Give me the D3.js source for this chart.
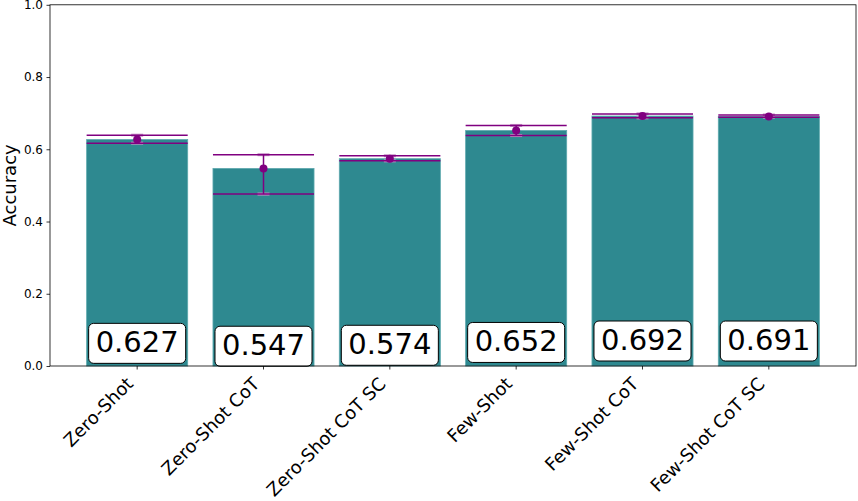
<!DOCTYPE html>
<html>
<head>
<meta charset="utf-8">
<script src="https://cdn.jsdelivr.net/npm/d3@7"></script>
<style>
  body { margin: 0; background: #fff; }
  text { font-family: "DejaVu Sans", sans-serif; }
</style>
</head>
<body>
<script>
// accuracy per prompting method, with min / max of the runs
var categories = ['Zero-Shot', 'Zero-Shot CoT', 'Zero-Shot CoT SC', 'Few-Shot', 'Few-Shot CoT', 'Few-Shot CoT SC'];
var accuracy = [0.627, 0.547, 0.574, 0.652, 0.692, 0.691];
var errLow = [0.617, 0.476, 0.568, 0.638, 0.687, 0.689];
var errHigh = [0.639, 0.585, 0.582, 0.666, 0.698, 0.695];
var yTicks = [0.0, 0.2, 0.4, 0.6, 0.8, 1.0];

var width = 858, height = 501;
var plotLeft = 50, plotRight = 856, plotTop = 4.8, plotBottom = 366;

var svg = d3.select('body').append('svg')
    .attr('width', width)
    .attr('height', height);

var x = d3.scaleBand()
    .domain(categories)
    .range([plotLeft, plotRight])
    .paddingInner(0.2)
    .paddingOuter(0.29);

var y = d3.scaleLinear()
    .domain([0, 1])
    .range([plotBottom, plotTop]);

var data = categories.map(function(c, i) {
    return {name: c, value: accuracy[i], lo: errLow[i], hi: errHigh[i]};
});

// bars
svg.selectAll('.bar')
    .data(data)
    .enter().append('rect')
        .attr('class', 'bar')
        .attr('x', function(d) { return x(d.name); })
        .attr('y', function(d) { return y(d.value); })
        .attr('width', x.bandwidth())
        .attr('height', function(d) { return y(0) - y(d.value); })
        .attr('fill', '#2e8990')
        .attr('stroke', '#5ea9ae')
        .attr('stroke-width', 0.8);

// error bars
var err = svg.selectAll('.err')
    .data(data)
    .enter().append('g')
        .attr('class', 'err');

function cx(d) { return x(d.name) + x.bandwidth() / 2; }

// small faint caps behind the wide ones
['lo', 'hi'].forEach(function(k) {
    err.append('rect')
        .attr('x', function(d) { return cx(d) - 6; })
        .attr('y', function(d) { return y(d[k]) - 1.5; })
        .attr('width', 12)
        .attr('height', 3)
        .attr('fill', '#c58fc5');
});

err.append('line')
    .attr('x1', cx).attr('x2', cx)
    .attr('y1', function(d) { return y(d.lo); })
    .attr('y2', function(d) { return y(d.hi); })
    .attr('stroke', '#800080')
    .attr('stroke-width', 1.5);

['lo', 'hi'].forEach(function(k) {
    err.append('line')
        .attr('x1', function(d) { return x(d.name); })
        .attr('x2', function(d) { return x(d.name) + x.bandwidth(); })
        .attr('y1', function(d) { return y(d[k]); })
        .attr('y2', function(d) { return y(d[k]); })
        .attr('stroke', '#800080')
        .attr('stroke-width', 1.5);
});

err.append('circle')
    .attr('cx', cx)
    .attr('cy', function(d) { return y(d.value); })
    .attr('r', 4)
    .attr('fill', '#800080');

// value labels in rounded boxes
var lab = svg.selectAll('.lab')
    .data(data)
    .enter().append('g')
        .attr('class', 'lab');

var labText = lab.append('text')
    .attr('x', cx)
    .attr('y', function(d) { return y(d.value / 10) + 8.5; })
    .attr('text-anchor', 'middle')
    .attr('font-size', 29)
    .attr('fill', '#000')
    .text(function(d) { return d3.format('.3f')(d.value); });

lab.insert('rect', 'text')
    .attr('x', function(d, i) {
        var w = labText.nodes()[i].getComputedTextLength();
        return cx(d) - w / 2 - 7;
    })
    .attr('y', function(d) { return y(d.value / 10) - 20; })
    .attr('width', function(d, i) { return labText.nodes()[i].getComputedTextLength() + 14; })
    .attr('height', 40)
    .attr('rx', 5)
    .attr('fill', '#fff')
    .attr('stroke', '#000')
    .attr('stroke-width', 1);

// axes
var yAxis = svg.append('g')
    .attr('transform', 'translate(' + plotLeft + ',0)')
    .call(d3.axisLeft(y).tickValues(yTicks).tickFormat(d3.format('.1f')).tickSizeOuter(0).tickSize(3.5).tickPadding(3.5));

var xAxis = svg.append('g')
    .attr('transform', 'translate(0,' + plotBottom + ')')
    .call(d3.axisBottom(x).tickSizeOuter(0).tickSize(3.5).tickPadding(3.5));

yAxis.selectAll('text').attr('font-size', 12).attr('font-family', 'DejaVu Sans').attr('fill', '#000');
yAxis.selectAll('line').attr('stroke', '#000').attr('stroke-width', 0.8);
xAxis.selectAll('line').attr('stroke', '#000').attr('stroke-width', 0.8);
yAxis.select('.domain').remove();
xAxis.select('.domain').remove();

// rotated category labels, right-aligned to the tick like matplotlib
xAxis.selectAll('text')
    .attr('font-size', 18)
    .attr('font-family', 'DejaVu Sans')
    .attr('fill', '#000')
    .attr('text-anchor', 'end')
    .attr('dy', null)
    .attr('y', null)
    .attr('transform', 'translate(-3,19) rotate(-45)');

// frame
svg.append('rect')
    .attr('x', plotLeft).attr('y', plotTop)
    .attr('width', plotRight - plotLeft).attr('height', plotBottom - plotTop)
    .attr('fill', 'none')
    .attr('stroke', '#000')
    .attr('stroke-width', 0.8);

svg.append('text')
    .attr('transform', 'translate(16,' + ((plotTop + plotBottom) / 2) + ') rotate(-90)')
    .attr('text-anchor', 'middle')
    .attr('font-size', 18)
    .text('Accuracy');
</script>
</body>
</html>
